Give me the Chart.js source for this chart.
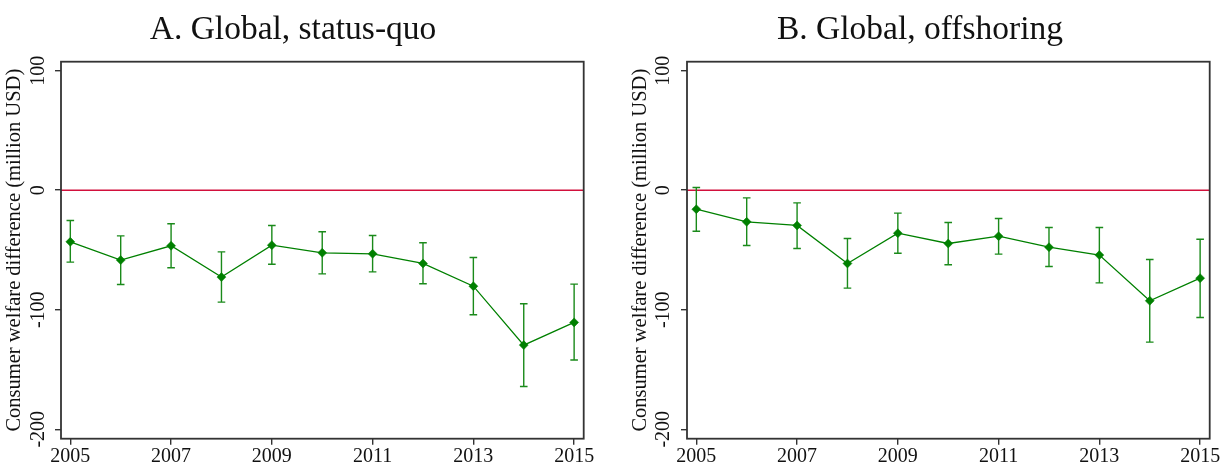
<!DOCTYPE html>
<html><head><meta charset="utf-8">
<script src="https://cdn.jsdelivr.net/npm/chart.js@4.4.1/dist/chart.umd.min.js"></script>
<style>
html,body{margin:0;padding:0;background:#fff;overflow:hidden;width:1225px;height:466px}
#a{position:absolute;left:0;top:0}
#b{position:absolute;left:612px;top:0}
</style>
</head><body>
<canvas id="a" width="612" height="466"></canvas>
<canvas id="b" width="613" height="466"></canvas>
<script>
// ---- data ----
const years = [2005,2006,2007,2008,2009,2010,2011,2012,2013,2014,2015];
const xTicks = [2005,2007,2009,2011,2013,2015];
const yTicks = [-200,-100,0,100];
const zeroLine = 0;

const statusQuo   = [-43.2,-58.5,-46.5,-72.7,-46.0,-52.4,-53.2,-61.3,-80.3,-129.6,-110.6];
const statusQuoHi = [-25.4,-38.2,-28.1,-51.6,-29.5,-34.8,-37.9,-44.0,-56.3,-95.0,-78.6];
const statusQuoLo = [-60.2,-78.9,-64.9,-93.6,-61.9,-70.0,-68.3,-78.3,-104.2,-164.2,-142.1];

const offshoring   = [-15.9,-26.5,-29.5,-61.3,-36.0,-44.6,-38.5,-47.7,-54.3,-92.5,-73.6];
const offshoringHi = [2.2,-6.4,-10.6,-40.4,-19.2,-27.0,-23.7,-31.2,-31.2,-58.0,-41.0];
const offshoringLo = [-34.3,-46.3,-48.8,-81.9,-52.7,-62.4,-53.5,-63.8,-77.5,-127.1,-106.5];

const titleA = 'A. Global, status-quo';
const titleB = 'B. Global, offshoring';
const yLabel = 'Consumer welfare difference (million USD)';

// ---- styling ----
const FAM = "'Liberation Serif', 'Times New Roman', serif";
const TXT = '#111';
const FRAME = '#333';
const GREEN = '#008000';
const ERR = '#1a8a1a';
const RED = '#d2103c';

const panelPlugin = {
  id: 'panel',
  beforeDatasetsDraw(chart) {
    const {ctx, chartArea: a, scales: {x, y}} = chart;
    ctx.save();
    // zero reference line
    const yz = y.getPixelForValue(zeroLine);
    ctx.strokeStyle = RED; ctx.lineWidth = 1.5;
    ctx.beginPath(); ctx.moveTo(a.left, yz); ctx.lineTo(a.right, yz); ctx.stroke();
    // error bars
    chart.data.datasets.forEach(ds => {
      if (!ds.errLo) return;
      ctx.strokeStyle = ERR; ctx.lineWidth = 1.4;
      ds.data.forEach((p, i) => {
        const px = x.getPixelForValue(p.x);
        const y1 = y.getPixelForValue(ds.errLo[i]);
        const y2 = y.getPixelForValue(ds.errHi[i]);
        ctx.beginPath();
        ctx.moveTo(px, y1); ctx.lineTo(px, y2);
        ctx.moveTo(px - 3.8, y1); ctx.lineTo(px + 3.8, y1);
        ctx.moveTo(px - 3.8, y2); ctx.lineTo(px + 3.8, y2);
        ctx.stroke();
      });
    });
    ctx.restore();
  },
  afterDraw(chart) {
    const {ctx, chartArea: a} = chart;
    ctx.save();
    ctx.strokeStyle = FRAME; ctx.lineWidth = 1.8;
    ctx.strokeRect(a.left, a.top, a.right - a.left, a.bottom - a.top);
    ctx.restore();
  }
};

function makePanel(id, title, vals, lo, hi, lay) {
  const data = years.map((yr, i) => ({x: yr, y: vals[i]}));
  return new Chart(document.getElementById(id), {
    type: 'line',
    data: { datasets: [{
      data, errLo: lo, errHi: hi,
      borderColor: GREEN, borderWidth: 1.3, tension: 0,
      pointStyle: 'rectRot', pointRadius: 4.5,
      pointBackgroundColor: GREEN, pointBorderColor: GREEN, pointBorderWidth: 0.5
    }]},
    options: {
      responsive: false, animation: false, events: [],
      layout: { padding: { left: lay.padL, right: lay.padR, top: 0, bottom: 0 } },
      plugins: {
        legend: { display: false },
        tooltip: { enabled: false },
        title: {
          display: true, text: title, color: TXT,
          font: { family: FAM, size: 33.5, weight: 'normal', lineHeight: 1.2 },
          padding: { top: 10.6, bottom: 10.9 }
        }
      },
      scales: {
        x: {
          type: 'linear', min: 2004.815, max: 2015.19,
          afterBuildTicks: s => { s.ticks = xTicks.map(v => ({value: v})); },
          afterFit: s => { s.height = 27.3; },
          border: { display: false },
          grid: { drawOnChartArea: false, drawTicks: true, tickLength: 6, color: FRAME, lineWidth: 1.4 },
          ticks: { color: TXT, font: { family: FAM, size: 20 }, padding: 0.3, minRotation: 0, maxRotation: 0,
                   callback: v => String(v) }
        },
        y: {
          type: 'linear', min: -207.9, max: 107.5,
          afterBuildTicks: s => { s.ticks = yTicks.map(v => ({value: v})); },
          afterFit: s => { s.width = lay.yW; },
          border: { display: false },
          grid: { drawOnChartArea: false, drawTicks: true, tickLength: 6, color: FRAME, lineWidth: 1.4 },
          ticks: { color: TXT, font: { family: FAM, size: 20 }, padding: lay.tickPad, minRotation: 90, maxRotation: 90,
                   crossAlign: 'center', callback: v => String(v) },
          title: { display: true, text: yLabel, color: TXT, font: { family: FAM, size: 20.5, lineHeight: 1.2 },
                   padding: { top: lay.titlePad, bottom: 0 } }
        }
      }
    },
    plugins: [panelPlugin]
  });
}

makePanel('a', titleA, statusQuo, statusQuoLo, statusQuoHi,
  { padL: 2.3, padR: 28.3, yW: 58.7, tickPad: -2.35, titlePad: 0.4 });
makePanel('b', titleB, offshoring, offshoringLo, offshoringHi,
  { padL: 18.3, padR: 15.3, yW: 56.7, tickPad: -1.35, titlePad: -1.6 });
</script>
</body></html>
